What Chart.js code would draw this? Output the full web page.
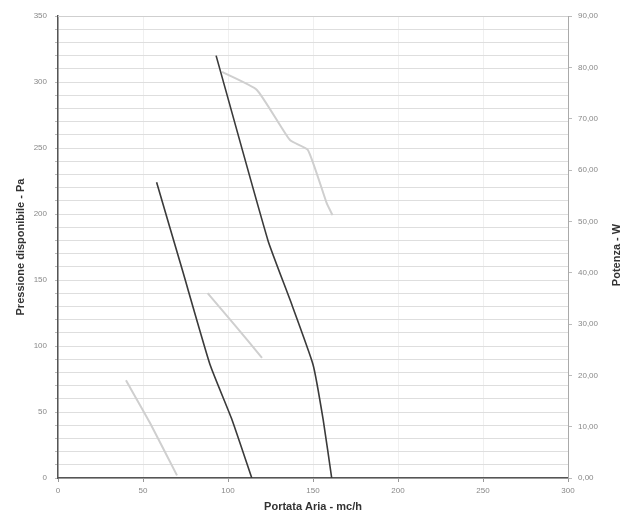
<!DOCTYPE html>
<html>
<head>
<meta charset="utf-8">
<script src="https://cdn.jsdelivr.net/npm/chart.js@4"></script>
<style>
  html, body { margin: 0; padding: 0; background: #fff; }
  #wrap { width: 633px; height: 520px; }
</style>
</head>
<body>
<div id="wrap"><canvas id="chart" width="633" height="520"></canvas></div>
<script>
// curve data (portata mc/h, pressione Pa, potenza W)
var flowA = [58, 73.5, 89.4, 102.4, 114];
var pressA = [224, 156, 86, 44, 0];

var flowB = [93, 123.5, 136.5, 150, 156, 161];
var pressB = [320, 180, 135, 86, 44, 0];

var flowC = [40, 54, 70];
var pressC = [74, 42, 2];

var powFlowA = [88, 104, 120];
var powerA = [36, 29.8, 23.4];

var powFlowB = [96.5, 117, 136.5, 147, 158, 161.5];
var powerB = [79.1, 75.6, 65.8, 63.9, 53.6, 51.2];

var xTicks = [0, 50, 100, 150, 200, 250, 300];
var leftTicks = [0, 50, 100, 150, 200, 250, 300, 350];
var rightTicks = [0, 10, 20, 30, 40, 50, 60, 70, 80, 90];

function pts(xs, ys) {
    var out = [];
    for (var i = 0; i < xs.length; i++) {
        out.push({ x: xs[i], y: ys[i] });
    }
    return out;
}

var FONT = "'Liberation Sans', Arial, sans-serif";

var rightTitle = {
    id: 'rightTitle',
    afterDraw: function(chart) {
        var ctx = chart.ctx;
        var area = chart.chartArea;
        ctx.save();
        ctx.translate(617, (area.top + area.bottom) / 2 + 8);
        ctx.rotate(-Math.PI / 2);
        ctx.font = 'bold 11px ' + FONT;
        ctx.fillStyle = '#333';
        ctx.textAlign = 'center';
        ctx.textBaseline = 'middle';
        ctx.fillText('Potenza - W', 0, 0);
        ctx.restore();
    }
};

var chart = new Chart(document.getElementById('chart'), {
    type: 'scatter',
    data: {
        datasets: [
            {
                label: 'Pressione A',
                data: pts(flowA, pressA),
                yAxisID: 'y',
                showLine: true,
                borderColor: '#3a3a3a',
                borderWidth: 1.6,
                pointRadius: 0,
                tension: 0.15
            },
            {
                label: 'Pressione B',
                data: pts(flowB, pressB),
                yAxisID: 'y',
                showLine: true,
                borderColor: '#3a3a3a',
                borderWidth: 1.6,
                pointRadius: 0,
                tension: 0.15
            },
            {
                label: 'Pressione C',
                data: pts(flowC, pressC),
                yAxisID: 'y',
                showLine: true,
                borderColor: '#cfcfcf',
                borderWidth: 2,
                pointRadius: 0,
                tension: 0.15
            },
            {
                label: 'Potenza A',
                data: pts(powFlowA, powerA),
                yAxisID: 'y1',
                showLine: true,
                borderColor: '#cfcfcf',
                borderWidth: 2,
                pointRadius: 0,
                tension: 0.15
            },
            {
                label: 'Potenza B',
                data: pts(powFlowB, powerB),
                yAxisID: 'y1',
                showLine: true,
                borderColor: '#cfcfcf',
                borderWidth: 2,
                pointRadius: 0,
                tension: 0.15
            }
        ]
    },
    options: {
        animation: false,
        responsive: false,
        layout: { padding: { top: 16, left: 0, right: 0, bottom: 0 } },
        plugins: {
            legend: { display: false },
            tooltip: { enabled: false }
        },
        scales: {
            x: {
                type: 'linear',
                min: 0,
                max: 300,
                afterBuildTicks: function(scale) {
                    scale.ticks = xTicks.map(function(v) { return { value: v }; });
                },
                afterFit: function(scale) { scale.height = 42; },
                grid: {
                    color: '#f0f0f0',
                    tickLength: 4,
                    tickColor: '#999'
                },
                border: { color: '#555', width: 1.5 },
                ticks: {
                    font: { size: 8, family: FONT },
                    color: '#888',
                    padding: 4,
                    maxRotation: 0
                },
                title: {
                    display: true,
                    text: 'Portata Aria - mc/h',
                    font: { size: 11, weight: 'bold', family: FONT },
                    color: '#333',
                    padding: { top: 0, bottom: 6 }
                }
            },
            y: {
                type: 'linear',
                position: 'left',
                min: 0,
                max: 350,
                ticks: {
                    stepSize: 10,
                    font: { size: 8, family: FONT },
                    color: '#888',
                    padding: 8,
                    callback: function(v) {
                        return leftTicks.indexOf(v) >= 0 ? String(v) : '';
                    }
                },
                afterFit: function(scale) { scale.width = 58; },
                grid: {
                    color: '#dedede',
                    tickLength: 3,
                    tickColor: '#bbb'
                },
                border: { color: '#555', width: 1.5 },
                title: {
                    display: true,
                    text: 'Pressione disponibile - Pa',
                    font: { size: 11, weight: 'bold', family: FONT },
                    color: '#333',
                    padding: { top: 14, bottom: 2 }
                }
            },
            y1: {
                type: 'linear',
                position: 'right',
                min: 0,
                max: 90,
                afterBuildTicks: function(scale) {
                    scale.ticks = rightTicks.map(function(v) { return { value: v }; });
                },
                afterFit: function(scale) { scale.width = 65; },
                ticks: {
                    font: { size: 8, family: FONT },
                    color: '#888',
                    padding: 6,
                    callback: function(v) {
                        return v.toFixed(2).replace('.', ',');
                    }
                },
                grid: {
                    drawOnChartArea: false,
                    tickLength: 4,
                    tickColor: '#bbb'
                },
                border: { color: '#aaa', width: 1 }
            }
        }
    },
    plugins: [rightTitle, {
        id: 'topBorder',
        afterDraw: function(chart) {
            var ctx = chart.ctx;
            var a = chart.chartArea;
            ctx.save();
            ctx.strokeStyle = '#cfcfcf';
            ctx.lineWidth = 1;
            ctx.beginPath();
            ctx.moveTo(a.left, a.top + 0.5);
            ctx.lineTo(a.right, a.top + 0.5);
            ctx.stroke();
            ctx.restore();
        }
    }]
});
</script>
</body>
</html>
